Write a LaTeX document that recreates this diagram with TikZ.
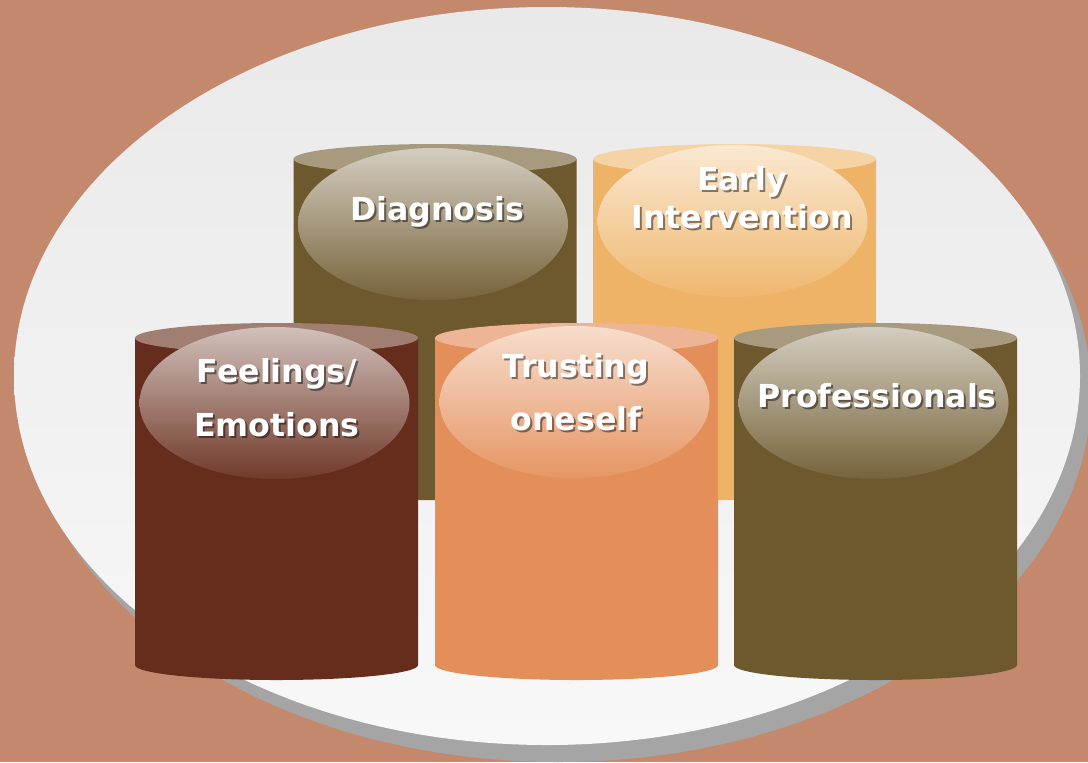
\documentclass[tikz,border=0pt]{standalone}
\usepackage{fontspec}
\setmainfont{DejaVu Sans}
\usetikzlibrary{calc}

\definecolor{clay}{HTML}{C4886D}
\definecolor{plateshadow}{HTML}{A5A5A5}
\definecolor{platetop}{HTML}{E9E9E9}
\definecolor{platebot}{HTML}{F8F8F8}
\definecolor{olive}{HTML}{6E592E}
\definecolor{olivelid}{HTML}{A89A7F}
\definecolor{sand}{HTML}{EEB366}
\definecolor{sandlid}{HTML}{F5D3A5}
\definecolor{rust}{HTML}{672D1C}
\definecolor{rustlid}{HTML}{A07E72}
\definecolor{peach}{HTML}{E48F5A}
\definecolor{peachlid}{HTML}{EDB595}

\tikzset{
  lbl/.style={text=white, font=\bfseries\fontsize{18}{20}\selectfont, anchor=base, inner sep=0pt},
  lblshade/.style={lbl, text=black, opacity=0.45}
}

% barrel: centre x, top y, bottom y, bottom radius, body, lid, glass centre y
\newcommand{\barrel}[7]{%
  \fill[#5] ($(#1,#2)+(-141.5,0)$) -- ($(#1,#3)+(-141.5,0)$)
    arc[start angle=180, end angle=0, x radius=141.5, y radius=#4]
    -- ($(#1,#2)+(141.5,0)$) -- cycle;
  \fill[#6] (#1,#2) ellipse [x radius=141.5, y radius=15];
  \shade[top color=white!70!#5, middle color=white!28!#5, bottom color=white!6!#5] ($(#1,#7)+(-2,0)$) ellipse [x radius=135, y radius=76];
}
\newcommand{\glassword}[3]{%
  \node[lblshade] (#1-sh) at ($(#2)+(2,2)$) {#3};
  \node[lbl] (#1) at (#2) {#3};
}

\begin{document}
\begin{tikzpicture}[x=0.02cm, y=-0.02cm]
  \useasboundingbox (0,0) rectangle (1088,762);
  \fill[clay] (0,0) rectangle (1088,762);

  % plate
  \fill[plateshadow] (558,393) ellipse [x radius=533, y radius=369];
  \shade[top color=platetop, bottom color=platebot] (547,376) ellipse [x radius=533, y radius=369];

  % back row
  \barrel{435}{159}{500}{0.01}{olive}{olivelid}{224}
  \glassword{diagnosis}{437,220}{Diagnosis}

  \barrel{734.5}{159}{500}{0.01}{sand}{sandlid}{221}
  \glassword{early}{742,190}{Early}
  \glassword{intervention}{742,228}{Intervention}

  % front row
  \barrel{276.5}{338}{665}{15}{rust}{rustlid}{403}
  \glassword{feelings}{277,382}{Feelings/}
  \glassword{emotions}{277,436}{Emotions}

  \barrel{576.5}{338}{665}{15}{peach}{peachlid}{402}
  \glassword{trusting}{576,377}{Trusting}
  \glassword{oneself}{576,430}{oneself}

  \barrel{875.5}{338}{665}{15}{olive}{olivelid}{403}
  \glassword{professionals}{877,407}{Professionals}
\end{tikzpicture}
\end{document}
